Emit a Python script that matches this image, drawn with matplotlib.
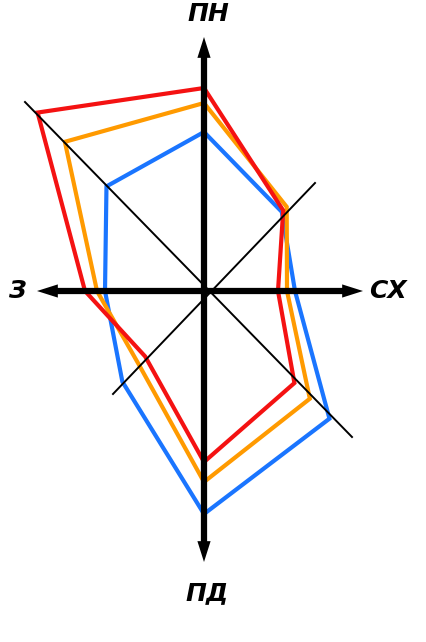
import numpy as np
import matplotlib
matplotlib.use('Agg')
import matplotlib.pyplot as plt

# directions of the rose: N, NE, E, SE, S, SW, W, NW
directions = ['ПН', 'ПН-СХ', 'СХ', 'ПД-СХ', 'ПД', 'ПД-З', 'З', 'ПН-З']
# the diagonals in the picture are drawn a little off 45 degrees
angles = np.deg2rad([90, 45.5, 0, -45.5, -90, -132, 180, 133])

# radii (pixel units)
red = [203, 113, 74, 129, 171, 88, 119, 244]
orange = [188, 118, 83, 151, 191, 98, 107, 204]
blue = [159, 111, 91, 179, 223, 122, 99, 143]

series = [(blue, '#1a75ff'), (orange, '#ff9a00'), (red, '#f41212')]

W, H = 426, 642
cx, cy = 204, 291   # centre of the rose in the picture

fig = plt.figure(figsize=(W / 100, H / 100), dpi=100)
ax = fig.add_axes([0, 0, 1, 1])
ax.set_xlim(-cx, W - cx)
ax.set_ylim(-(H - cy), cy)
ax.axis('off')

# polygons
for vals, col in series:
    r = np.array(vals + vals[:1], dtype=float)
    a = np.concatenate([angles, angles[:1]])
    ax.plot(r * np.cos(a), r * np.sin(a), color=col, lw=3.0,
            solid_joinstyle='miter', zorder=2)

# thin diagonals
ax.plot([-179, 148], [189, -146], color='black', lw=1.4, zorder=3)
ax.plot([111, -91], [108, -103], color='black', lw=1.4, zorder=3)

# main axes: four arrows going out from the centre
arrow = dict(arrowstyle='simple,head_length=1.5,head_width=0.95,tail_width=0.45',
             color='black', lw=0, mutation_scale=10, shrinkA=0, shrinkB=0)
for tip in [(0, 254), (0, -271), (159, 0), (-167, 0)]:
    ax.annotate('', xy=tip, xytext=(0, 0), arrowprops=arrow, zorder=4)

# labels
font = dict(fontsize=18, fontweight='bold', fontstyle='italic',
            ha='center', va='center', family='DejaVu Sans')
ax.text(4, 277, 'ПН', **font)
ax.text(184, 0, 'СХ', **font)
ax.text(-187, 0, 'З', **font)
ax.text(3, -302, 'ПД', **font)

fig.savefig('out.png', dpi=100)
